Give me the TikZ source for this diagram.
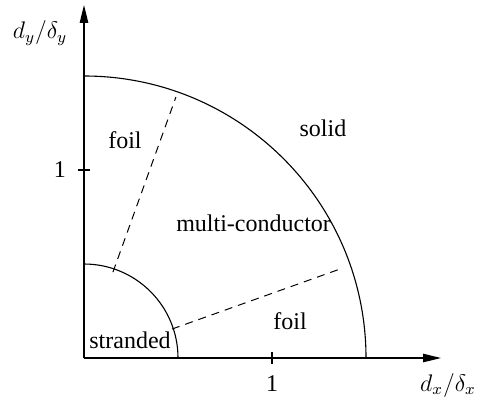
\documentclass[tikz,border=0pt]{standalone}
\usepackage{fontspec}
\setmainfont{Liberation Serif}
\usetikzlibrary{arrows.meta}
\begin{document}
\begin{tikzpicture}[x=94pt,y=94pt,
  axis/.style={line width=0.7pt,-{Triangle[length=9pt,width=4.2pt]}},
  region/.style={line width=0.55pt},
  split/.style={line width=0.5pt,dash pattern=on 4pt off 3pt},
  tick/.style={line width=0.6pt},
  lbl/.style={font=\fontsize{12}{14}\selectfont,inner sep=0pt}]
\useasboundingbox (-0.4468,-0.2394) rectangle (2.0957,1.9043);
\coordinate (O) at (0,0);
\coordinate (X) at (1.899,0);
\coordinate (Y) at (0,1.878);
\draw[axis] (O) -- (X);
\draw[axis] (O) -- (Y);
\coordinate (xt) at (1,0);
\coordinate (yt) at (0,1);
\draw[tick] ([yshift=-3pt]xt) -- ([yshift=3pt]xt);
\draw[tick] ([xshift=-3pt]yt) -- ([xshift=3pt]yt);
\coordinate (s0) at (0.5,0);
\coordinate (b0) at (1.5,0);
\draw[region] (s0) arc[start angle=0,end angle=90,radius=0.5];
\draw[region] (b0) arc[start angle=0,end angle=90,radius=1.5];
\coordinate (d1a) at (0.154,0.457);
\coordinate (d1b) at (0.489,1.388);
\coordinate (d2a) at (0.468,0.154);
\coordinate (d2b) at (1.378,0.479);
\draw[split] (d1a) -- (d1b);
\draw[split] (d2a) -- (d2b);
\node[lbl] (l1x) at (1,-0.138) {1};
\node[lbl] (l1y) at (-0.128,1.0) {1};
\node[lbl] (ly) at (-0.234,1.729) {$d_y/\delta_y$};
\node[lbl] (lx) at (1.936,-0.144) {$d_x/\delta_x$};
\node[lbl] (foilA) at (0.218,1.16) {foil};
\node[lbl] (solid) at (1.271,1.223) {solid};
\node[lbl] (multi) at (0.902,0.718) {multi-conductor};
\node[lbl] (strand) at (0.245,0.096) {stranded};
\node[lbl] (foilB) at (1.096,0.197) {foil};
\end{tikzpicture}
\end{document}
